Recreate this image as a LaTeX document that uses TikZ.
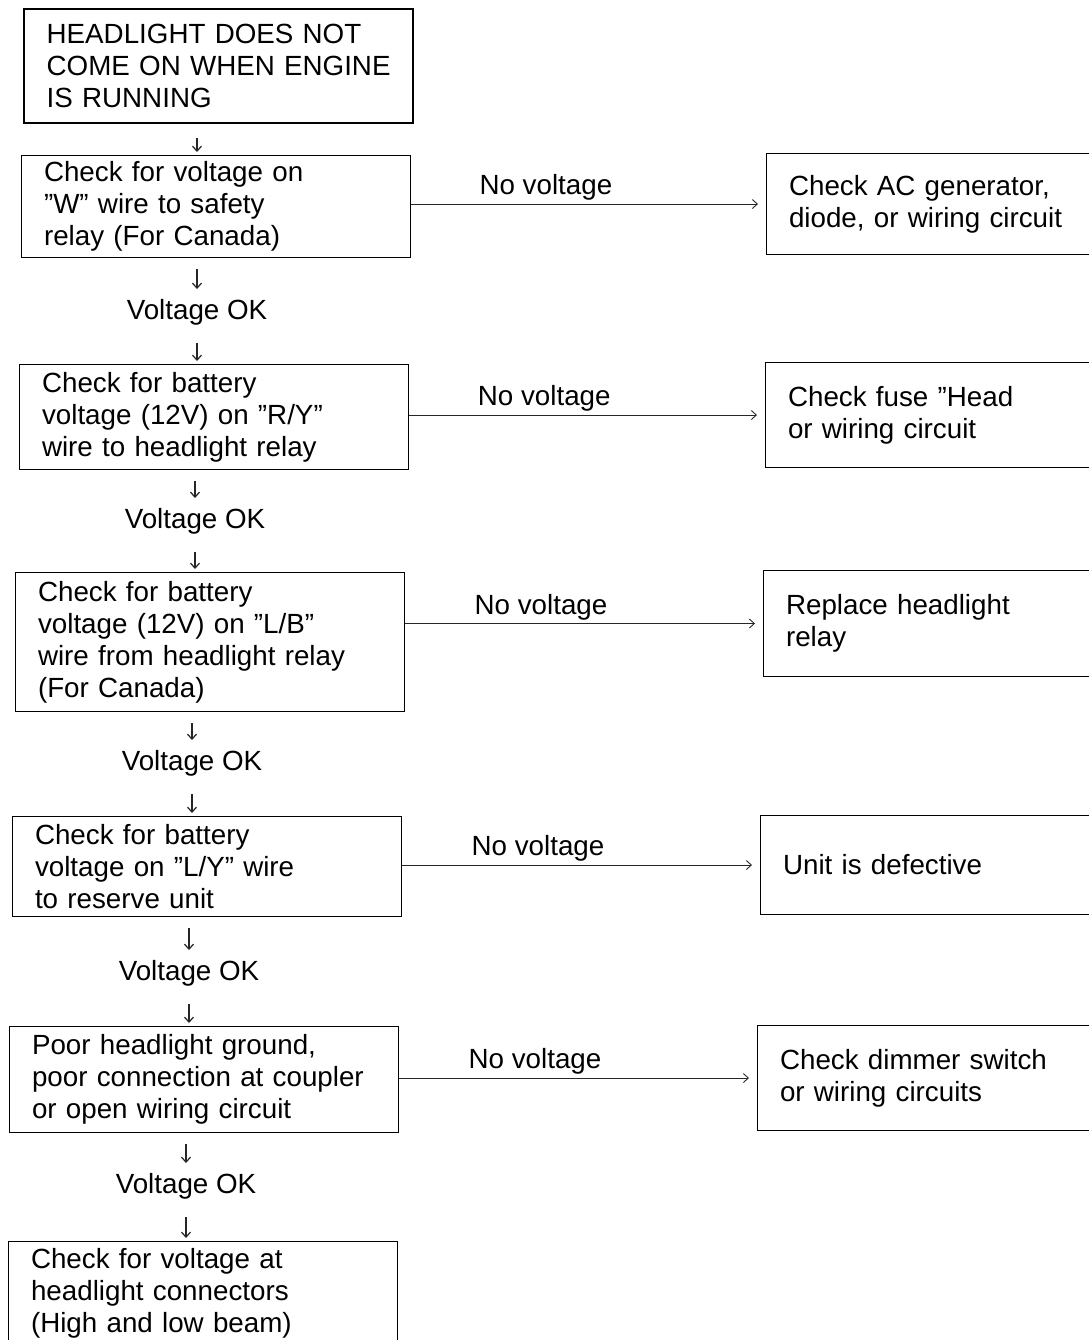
\documentclass[tikz,border=0pt]{standalone}
\usepackage{fontspec}
\setmainfont{Liberation Sans}
\usetikzlibrary{arrows.meta}

\begin{document}
\begin{tikzpicture}[
  x=0.02cm, y=-0.02cm,
  every node/.style={font=\fontsize{15.8}{18.2}\selectfont},
  box/.style={draw, line width=0.6pt, anchor=north west, align=left, text width=6.88cm, inner xsep=0.45cm, inner ysep=2pt},
  okay/.style={anchor=base, inner sep=0pt},
  nov/.style={inner sep=0pt, pos=0.38, above=1.8pt},
  arr/.style={draw=black!85, line width=0.5pt, -{Straight Barb[length=1mm,width=1.8mm]}},
  down/.style={arr, line width=0.7pt, shorten <=0.22cm, shorten >=0.19cm},
  downb/.style={arr, line width=0.7pt, shorten <=0.36cm, shorten >=0.06cm}
]
\useasboundingbox (0,0) rectangle (1089,1340);

% main column
\node[box, line width=1.3pt, minimum height=2.28cm] (top) at (23,8) {HEADLIGHT DOES NOT\\COME ON WHEN ENGINE\\IS RUNNING};
\node[box, minimum height=2.04cm] (chk1) at (21,155) {Check for voltage on\\''W'' wire to safety\\relay (For Canada)};
\node[box, minimum height=2.1cm] (chk2) at (19,364) {Check for battery\\voltage (12V) on ''R/Y''\\wire to headlight relay};
\node[box, minimum height=2.78cm] (chk3) at (15,572) {Check for battery\\voltage (12V) on ''L/B''\\wire from headlight relay\\(For Canada)};
\node[box, minimum height=2.0cm] (chk4) at (12,816) {Check for battery\\voltage on ''L/Y'' wire\\to reserve unit};
\node[box, minimum height=2.12cm] (chk5) at (9,1026) {Poor headlight ground,\\poor connection at coupler\\or open wiring circuit};
\node[box, minimum height=2.08cm] (chk6) at (8,1241) {Check for voltage at\\headlight connectors\\(High and low beam)};

\node[okay] (ok1) at (197,319) {Voltage OK};
\node[okay] (ok2) at (195,528) {Voltage OK};
\node[okay] (ok3) at (192,770) {Voltage OK};
\node[okay] (ok4) at (189,980) {Voltage OK};
\node[okay] (ok5) at (186,1193) {Voltage OK};

% right column
\node[box, minimum height=2.02cm] (fix1) at (766,153) {Check AC generator,\\diode, or wiring circuit};
\node[box, minimum height=2.1cm] (fix2) at (765,362) {Check fuse ''Head\\or wiring circuit};
\node[box, minimum height=2.12cm] (fix3) at (763,570) {Replace headlight\\relay};
\node[box, minimum height=1.98cm] (fix4) at (760,815) {Unit is defective};
\node[box, minimum height=2.1cm] (fix5) at (757,1025) {Check dimmer switch\\or wiring circuits};

% downward chain
\draw[downb, shorten <=0.28cm] (top.south -| ok1) -- (ok1 |- chk1.north);
\draw[down] (ok1 |- chk1.south) -- (ok1);
\draw[downb] (ok1) -- (ok1 |- chk2.north);
\draw[down] (ok2 |- chk2.south) -- (ok2);
\draw[downb] (ok2) -- (ok2 |- chk3.north);
\draw[down] (ok3 |- chk3.south) -- (ok3);
\draw[downb] (ok3) -- (ok3 |- chk4.north);
\draw[down] (ok4 |- chk4.south) -- (ok4);
\draw[downb] (ok4) -- (ok4 |- chk5.north);
\draw[down] (ok5 |- chk5.south) -- (ok5);
\draw[downb] (ok5) -- (ok5 |- chk6.north);

% no voltage branches
\draw[arr, shorten >=0.16cm] (chk1.east |- fix1.west) -- (fix1.west) node[nov] (nv1) {No voltage};
\draw[arr, shorten >=0.16cm] (chk2.east |- fix2.west) -- (fix2.west) node[nov] (nv2) {No voltage};
\draw[arr, shorten >=0.16cm] (chk3.east |- fix3.west) -- (fix3.west) node[nov] (nv3) {No voltage};
\draw[arr, shorten >=0.16cm] (chk4.east |- fix4.west) -- (fix4.west) node[nov] (nv4) {No voltage};
\draw[arr, shorten >=0.16cm] (chk5.east |- fix5.west) -- (fix5.west) node[nov] (nv5) {No voltage};
\end{tikzpicture}
\end{document}
